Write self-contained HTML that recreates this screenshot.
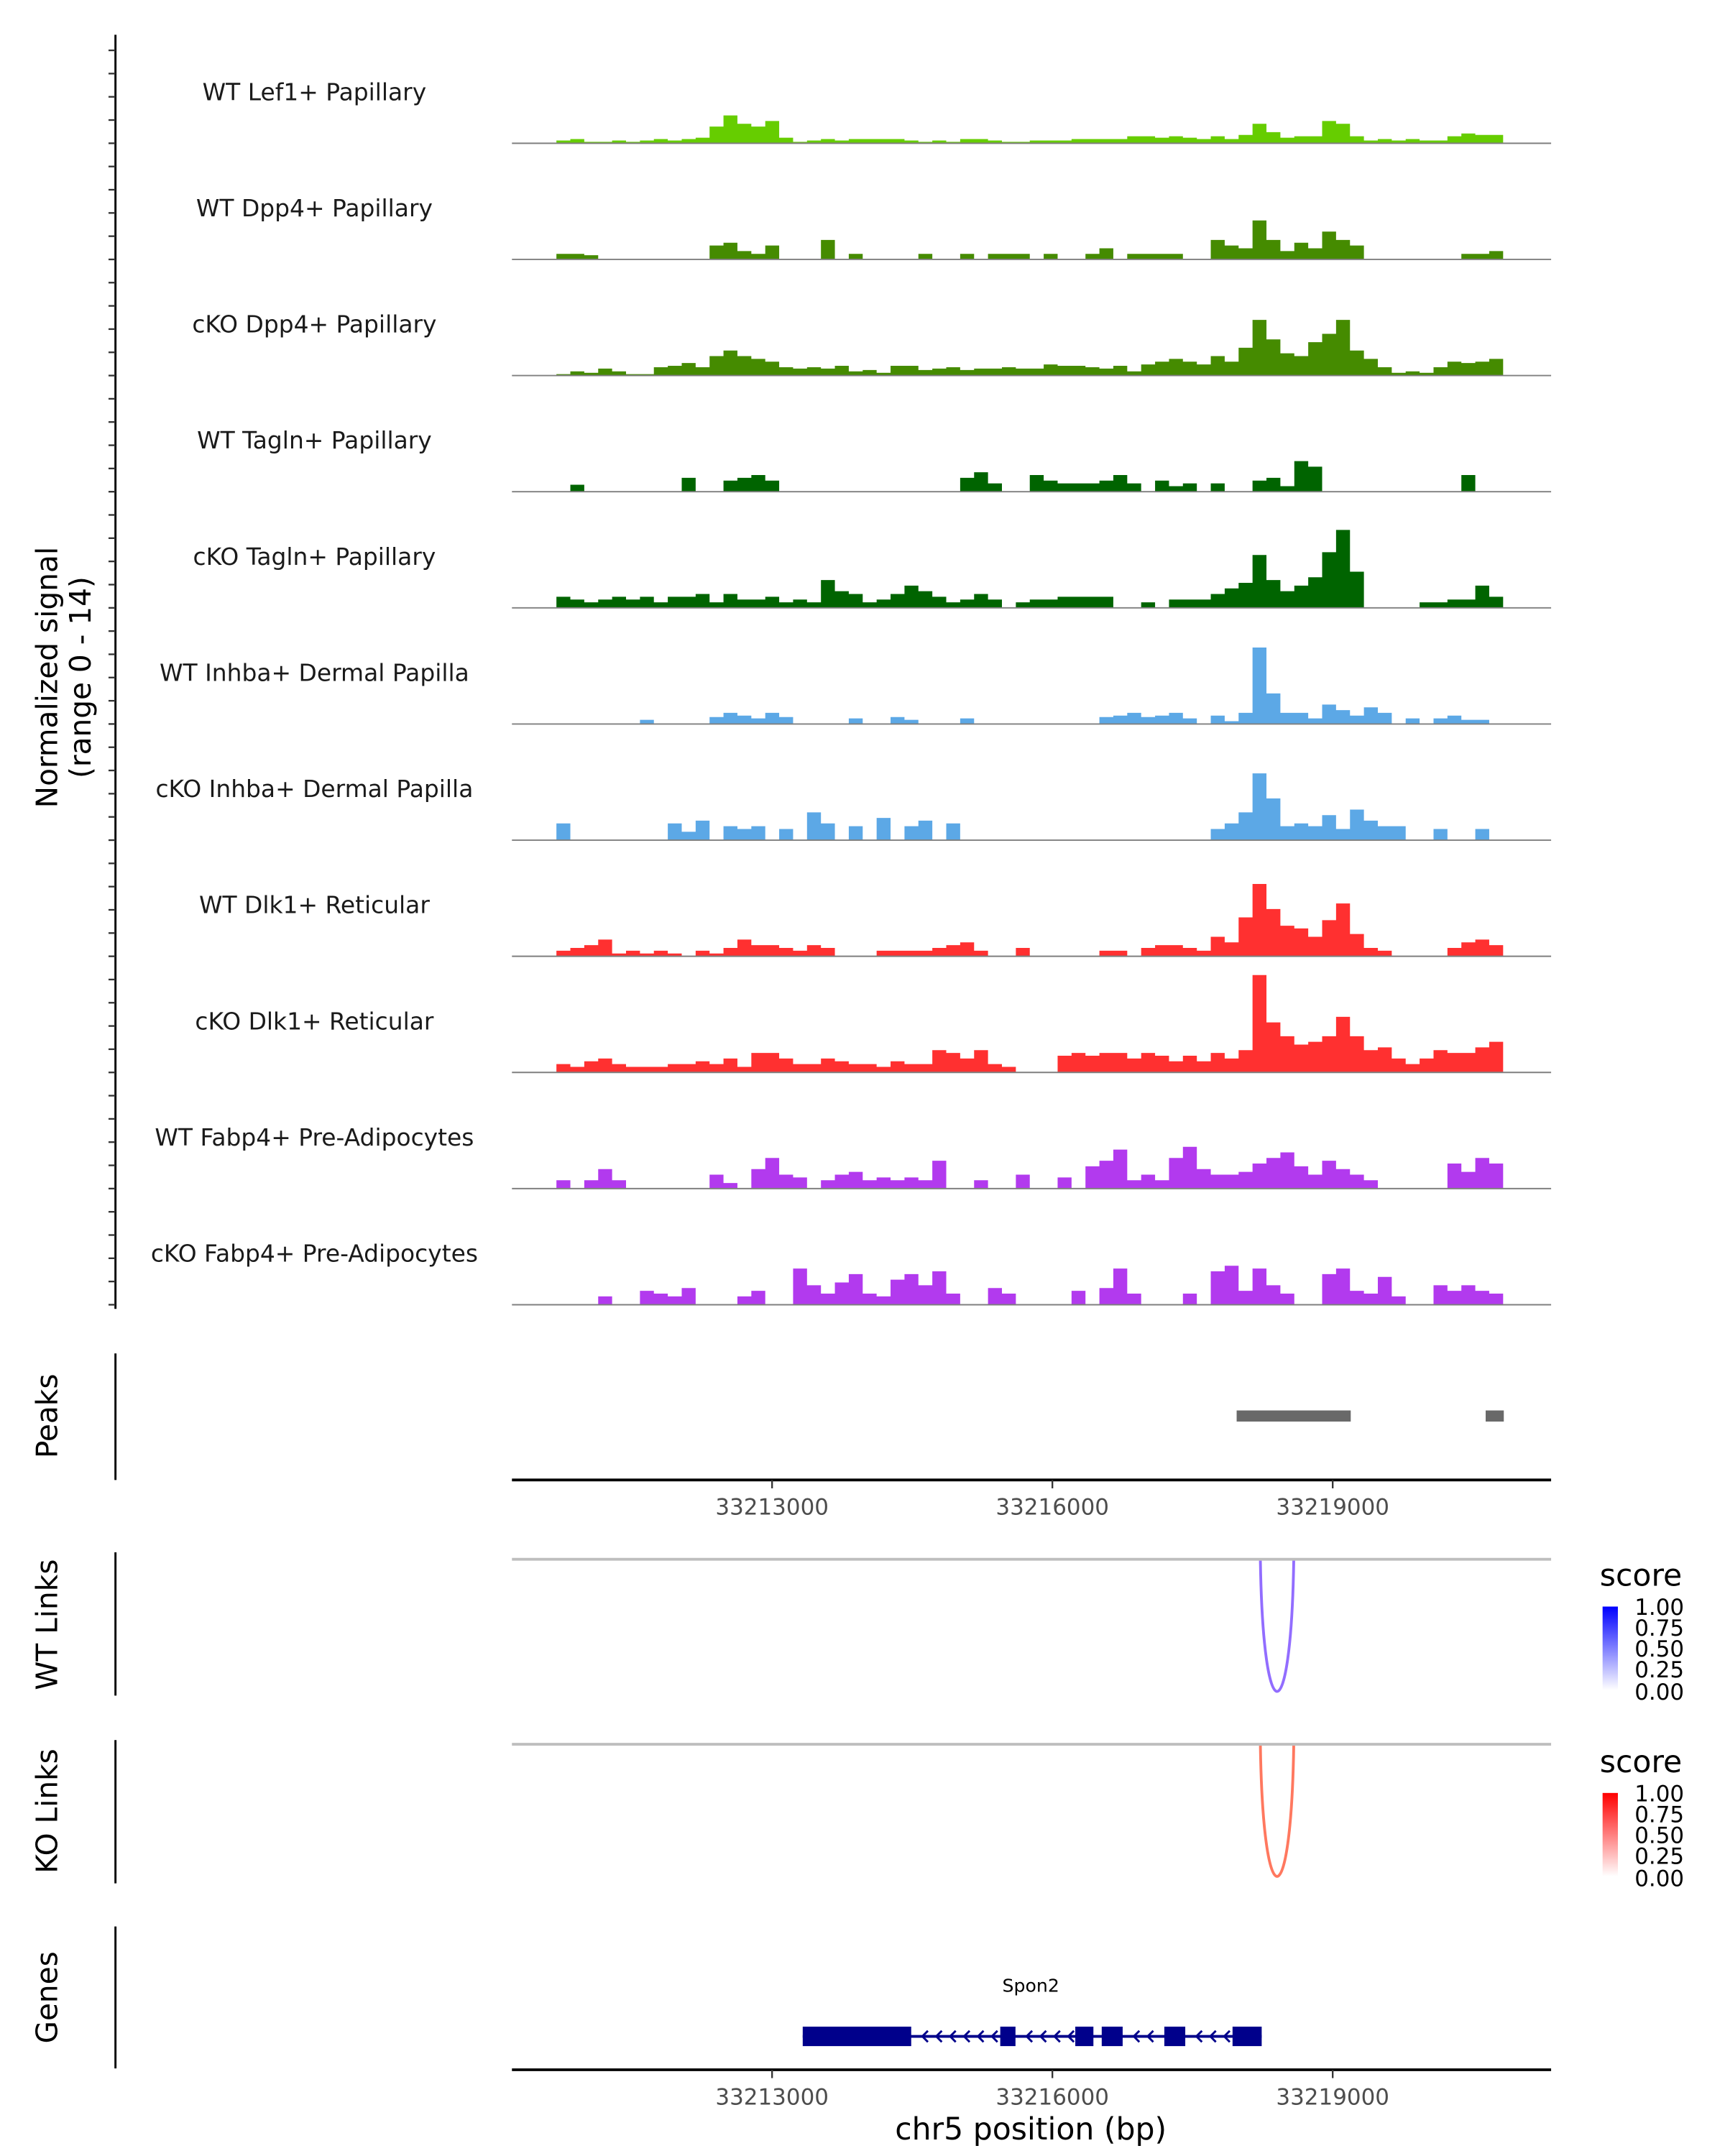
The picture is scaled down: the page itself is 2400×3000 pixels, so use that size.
<!DOCTYPE html>
<html><head><meta charset="utf-8"><style>
html,body{margin:0;padding:0;background:#fff;}
svg{display:block;font-family:"DejaVu Sans","Liberation Sans",sans-serif;}
</style></head><body>
<svg id="chart" width="2400" height="3000" viewBox="0 0 1240 1550" xmlns="http://www.w3.org/2000/svg">
<defs>
<linearGradient id="gradBlue" x1="0" y1="1" x2="0" y2="0"><stop offset="0" stop-color="#ffffff"/><stop offset="1" stop-color="#0000ff"/></linearGradient>
<linearGradient id="gradRed" x1="0" y1="1" x2="0" y2="0"><stop offset="0" stop-color="#ffffff"/><stop offset="1" stop-color="#ff0000"/></linearGradient>
</defs>
<g id="tracks"></g>
<line x1="83" y1="25" x2="83" y2="941" stroke="#000" stroke-width="1.5"/>
<g id="yticks"></g>
<g font-size="21" fill="#000" text-anchor="middle">
<text transform="translate(41,487) rotate(-90)">Normalized signal</text>
<text transform="translate(65,487) rotate(-90)">(range 0 - 14)</text>
</g>
<line x1="83" y1="973" x2="83" y2="1064" stroke="#000" stroke-width="1.5"/>
<text transform="translate(41,1018) rotate(-90)" font-size="21" text-anchor="middle">Peaks</text>
<g id="peaks"></g>
<line x1="368" y1="1064" x2="1115" y2="1064" stroke="#000" stroke-width="2"/>
<g id="xticks1"></g>
<line x1="83" y1="1116" x2="83" y2="1219" stroke="#000" stroke-width="1.5"/>
<text transform="translate(41,1168) rotate(-90)" font-size="21" text-anchor="middle">WT Links</text>
<line x1="368" y1="1121" x2="1115" y2="1121" stroke="#bebebe" stroke-width="2"/>
<g id="wtlinks"></g>
<line x1="83" y1="1251" x2="83" y2="1354" stroke="#000" stroke-width="1.5"/>
<text transform="translate(41,1302) rotate(-90)" font-size="21" text-anchor="middle">KO Links</text>
<line x1="368" y1="1254" x2="1115" y2="1254" stroke="#bebebe" stroke-width="2"/>
<g id="kolinks"></g>
<g>
<text x="1150" y="1140" font-size="22">score</text>
<rect x="1152" y="1155" width="11" height="60" fill="url(#gradBlue)"/>
<g font-size="16" fill="#000"><text x="1175" y="1161">1.00</text><text x="1175" y="1176">0.75</text><text x="1175" y="1191">0.50</text><text x="1175" y="1206">0.25</text><text x="1175" y="1222">0.00</text></g>
</g>
<g>
<text x="1150" y="1274" font-size="22">score</text>
<rect x="1152" y="1289" width="11" height="60" fill="url(#gradRed)"/>
<g font-size="16" fill="#000"><text x="1175" y="1295">1.00</text><text x="1175" y="1310">0.75</text><text x="1175" y="1325">0.50</text><text x="1175" y="1340">0.25</text><text x="1175" y="1356">0.00</text></g>
</g>
<line x1="83" y1="1385" x2="83" y2="1487" stroke="#000" stroke-width="1.5"/>
<text transform="translate(41,1436) rotate(-90)" font-size="21" text-anchor="middle">Genes</text>
<g id="genes"></g>
<line x1="368" y1="1488" x2="1115" y2="1488" stroke="#000" stroke-width="2"/>
<g id="xticks2"></g>
<text x="741" y="1538" font-size="22" text-anchor="middle">chr5 position (bp)</text>
</svg>
<script>
const NS="http://www.w3.org/2000/svg";
const trackNames=["WT Lef1+ Papillary","WT Dpp4+ Papillary","cKO Dpp4+ Papillary","WT Tagln+ Papillary","cKO Tagln+ Papillary","WT Inhba+ Dermal Papilla","cKO Inhba+ Dermal Papilla","WT Dlk1+ Reticular","cKO Dlk1+ Reticular","WT Fabp4+ Pre-Adipocytes","cKO Fabp4+ Pre-Adipocytes"];
const trackColors=["#66cd00","#458b00","#458b00","#006400","#006400","#5ca8e6","#5ca8e6","#ff3030","#ff3030","#b23aee","#b23aee"];
const binStart=33210692;
const binSize=149;
const sigLef1WT=[2,3,1,1,2,1,2,3,2,3,4,12,20,14,12,16,4,1,2,3,2,3,3,3,3,2,1,2,1,3,3,2,1,1,2,2,2,3,3,3,3,5,5,4,5,4,3,5,3,6,14,8,4,5,5,16,14,5,2,3,2,3,2,2,5,7,6,6];
const sigDpp4WT=[4,4,3,0,0,0,0,0,0,0,0,10,12,6,4,10,0,0,0,14,0,4,0,0,0,0,4,0,0,4,0,4,4,4,0,4,0,0,4,8,0,4,4,4,4,0,0,14,10,8,28,14,6,12,8,20,14,10,0,0,0,0,0,0,0,4,4,6];
const sigDpp4KO=[1,3,2,5,3,1,1,6,7,9,6,14,18,14,12,10,6,5,6,5,7,3,4,2,7,7,4,5,6,4,5,5,6,5,5,8,7,7,6,5,7,3,8,10,12,10,8,14,10,20,40,26,16,14,24,30,40,18,12,6,2,3,2,6,10,9,10,12];
const sigTaglnWT=[0,5,0,0,0,0,0,0,0,10,0,0,8,10,12,8,0,0,0,0,0,0,0,0,0,0,0,0,0,10,14,6,0,0,12,8,6,6,6,8,12,6,0,8,4,6,0,6,0,0,8,10,4,22,18,0,0,0,0,0,0,0,0,0,0,12,0,0];
const sigTaglnKO=[8,6,4,6,8,6,8,4,8,8,10,4,10,6,6,8,4,6,4,20,12,10,4,6,10,16,12,8,4,6,10,6,0,4,6,6,8,8,8,8,0,0,4,0,6,6,6,10,14,18,38,20,12,16,22,40,56,26,0,0,0,0,4,4,6,6,16,8];
const sigInhbaWT=[0,0,0,0,0,0,3,0,0,0,0,5,8,6,4,8,5,0,0,0,0,4,0,0,5,3,0,0,0,4,0,0,0,0,0,0,0,0,0,5,6,8,5,6,8,4,0,6,2,8,55,22,8,8,4,14,10,6,12,8,0,4,0,4,6,3,3,0];
const sigInhbaKO=[12,0,0,0,0,0,0,0,12,6,14,0,10,8,10,0,8,0,20,12,0,10,0,16,0,10,14,0,12,0,0,0,0,0,0,0,0,0,0,0,0,0,0,0,0,0,0,8,12,20,48,30,10,12,10,18,8,22,14,10,10,0,0,8,0,0,8,0];
const sigDlk1WT=[4,6,8,12,2,4,2,4,2,0,4,2,6,12,8,8,6,4,8,6,0,0,0,4,4,4,4,6,8,10,4,0,0,6,0,0,0,0,0,4,4,0,6,8,8,6,4,14,10,28,52,34,22,20,14,26,38,16,6,4,0,0,0,0,6,10,12,8];
const sigDlk1KO=[6,4,8,10,6,4,4,4,6,6,8,6,10,4,14,14,10,6,6,10,8,6,6,4,8,6,6,16,14,10,16,6,4,0,0,0,12,14,12,14,14,10,14,12,8,12,8,14,10,16,70,36,26,20,22,26,40,26,16,18,10,6,10,16,14,14,18,22];
const sigFabp4WT=[6,0,6,14,6,0,0,0,0,0,0,10,4,0,14,22,10,8,0,6,10,12,6,8,6,8,6,20,0,0,6,0,0,10,0,0,8,0,16,20,28,6,10,6,22,30,14,10,10,12,18,22,26,16,10,20,14,10,6,0,0,0,0,0,18,12,22,18];
const sigFabp4KO=[0,0,0,6,0,0,10,8,6,12,0,0,0,6,10,0,0,26,14,8,16,22,8,6,18,22,14,24,8,0,0,12,8,0,0,0,0,10,0,12,26,8,0,0,0,8,0,24,28,10,26,14,8,0,0,22,26,10,8,20,6,0,0,14,10,14,10,8];
const signals=[sigLef1WT,sigDpp4WT,sigDpp4KO,sigTaglnWT,sigTaglnKO,sigInhbaWT,sigInhbaKO,sigDlk1WT,sigDlk1KO,sigFabp4WT,sigFabp4KO];
const xTicks=[33213000,33216000,33219000];
const peakStarts=[33217972,33220637];
const peakEnds=[33219193,33220831];
const linkStarts=[33218226];
const linkEnds=[33218583];
const wtScores=[0.7];
const koScores=[0.7];
const geneStart=33213328, geneEnd=33218240;
const exonStarts=[33213328,33215442,33216245,33216528,33217198,33217928];
const exonEnds=[33214489,33215605,33216439,33216752,33217422,33218240];

function xs(bp){return 555+(bp-33213000)*0.067167;}
const sigMax=80, trackStep=83.5, firstBase=103;
function ys(base,v){return base-v/sigMax*80;}
function mk(tag,attrs,parent){const e=document.createElementNS(NS,tag);for(const k in attrs)e.setAttribute(k,attrs[k]);parent.appendChild(e);return e;}

const tg=document.getElementById('tracks');
for(let t=0;t<signals.length;t++){
  const base=firstBase+t*trackStep;
  const lab=mk('text',{x:226,y:base-31,'font-size':'17','text-anchor':'middle',fill:'#1a1a1a'},tg);
  lab.textContent=trackNames[t];
  
  
  let d='M'+xs(binStart)+','+base;
  const s=signals[t];
  for(let i=0;i<s.length;i++){
    const x0=xs(binStart+i*binSize), x1=xs(binStart+(i+1)*binSize), y=ys(base,s[i]);
    d+=' L'+x0.toFixed(2)+','+y.toFixed(2)+' L'+x1.toFixed(2)+','+y.toFixed(2);
  }
  d+=' L'+xs(binStart+s.length*binSize).toFixed(2)+','+base+' Z';
  const p=mk('path',{d:d,fill:trackColors[t],stroke:'none'},tg);
  
  
  const bl=mk('line',{x1:368,x2:1115,y1:base,y2:base,stroke:'#7f7f7f','stroke-width':1},tg);
  
  
}
const ytg=document.getElementById('yticks');
for(let k=0;k<=55;k++){
  const y=firstBase+10*trackStep-k*trackStep/5;
  if(y<30)break;
  const tk=mk('line',{x1:78,x2:83,y1:y,y2:y,stroke:'#333','stroke-width':1.2},ytg);
  
  
}
const pg=document.getElementById('peaks');
for(let i=0;i<peakStarts.length;i++){
  const r=mk('rect',{x:xs(peakStarts[i]),y:1014,width:xs(peakEnds[i])-xs(peakStarts[i]),height:8,fill:'#696969'},pg);
  
  
}
function drawTicks(id,y){
  const g=document.getElementById(id);
  for(const v of xTicks){
    const l=mk('line',{x1:xs(v),x2:xs(v),y1:y,y2:y+6,stroke:'#333','stroke-width':1.2},g);
    
    
    const t=mk('text',{x:xs(v),y:y+25,'font-size':'16','text-anchor':'middle',fill:'#4d4d4d'},g);
    t.textContent=v;
    
    
  }
}
drawTicks('xticks1',1064);
drawTicks('xticks2',1488);
function drawLinks(id,top,scores,col){
  const g=document.getElementById(id);
  for(let i=0;i<linkStarts.length;i++){
    const a=xs(linkStarts[i]), b=xs(linkEnds[i]), depth=94*(4/3);
    const p=mk('path',{d:`M${a},${top} C${a+2},${top+depth} ${b-2},${top+depth} ${b},${top}`,fill:'none',stroke:col,'stroke-width':2,'stroke-opacity':0.4+0.6*scores[i]},g);
    
    
  }
}
drawLinks('wtlinks',1122,wtScores,'#7a4dff');
drawLinks('kolinks',1255,koScores,'#ff5a3c');
const gg=document.getElementById('genes');
const gl=mk('line',{x1:xs(geneStart),x2:xs(geneEnd),y1:1464,y2:1464,stroke:'#00008b','stroke-width':2},gg);


for(let i=0;i<exonStarts.length;i++){
  const r=mk('rect',{x:xs(exonStarts[i]),y:1457,width:xs(exonEnds[i])-xs(exonStarts[i]),height:14,fill:'#00008b'},gg);
  
  
}
for(let i=0;i<exonStarts.length-1;i++){
  const a=xs(exonEnds[i]), b=xs(exonStarts[i+1]);
  for(let x=a+8;x<b-3;x+=10){
    const ar=mk('path',{d:`M${x+4},${1460} L${x},${1464} L${x+4},${1468}`,fill:'none',stroke:'#00008b','stroke-width':1.5},gg);
    
    
  }
}
const gn=mk('text',{x:741,y:1432,'font-size':'13','text-anchor':'middle',fill:'#000'},gg);
gn.textContent='Spon2';


</script>
</body></html>
